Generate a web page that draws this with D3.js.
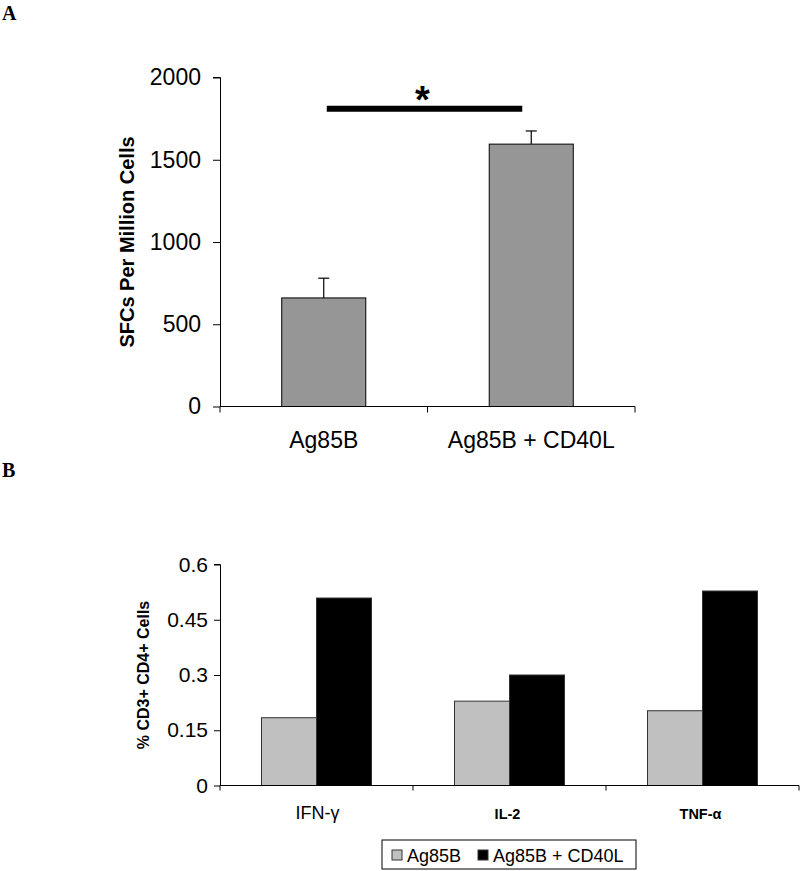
<!DOCTYPE html>
<html>
<head>
<meta charset="utf-8">
<script src="https://d3js.org/d3.v7.min.js"></script>
<style>
  body { margin: 0; background: #fff; }
  svg { display: block; font-family: Arial, "Liberation Sans", sans-serif; }
</style>
</head>
<body>
<div id="chart"></div>
<script>
// panel A data
var groupsA = ["Ag85B", "Ag85B + CD40L"];
var sfcMeans = [660, 1595];
var sfcErr = [120, 80];
var ticksA = [0, 500, 1000, 1500, 2000];

// panel B data
var cytokines = ["IFN-\u03b3", "IL-2", "TNF-\u03b1"];
var seriesB = ["Ag85B", "Ag85B + CD40L"];
var ag85b = [0.184, 0.229, 0.203];
var ag85bCd40l = [0.509, 0.300, 0.528];
var ticksB = [0, 0.15, 0.3, 0.45, 0.6];
var colorsB = ["#c0c0c0", "#000000"];

var svg = d3.select("#chart").append("svg")
  .attr("width", 800).attr("height", 871);

// panel letters
svg.append("text").attr("x", 2).attr("y", 20)
  .style("font-family", "'Liberation Serif', 'Times New Roman', serif")
  .style("font-weight", "bold").style("font-size", "20px").text("A");
svg.append("text").attr("x", 2).attr("y", 477)
  .style("font-family", "'Liberation Serif', 'Times New Roman', serif")
  .style("font-weight", "bold").style("font-size", "20px").text("B");

// ---------- panel A ----------
var xA = d3.scaleBand().domain(groupsA).range([220, 635]).padding(0);
var yA = d3.scaleLinear().domain([0, 2000]).range([406.5, 77.5]);
var barW = xA.bandwidth() * 0.405;

var gA = svg.append("g");

gA.append("g")
  .attr("transform", "translate(220,0)")
  .call(d3.axisLeft(yA).tickValues(ticksA).tickSize(7).tickPadding(12).tickFormat(d3.format("d")))
  .call(function(g) {
    g.select(".domain").attr("d", "M-7," + yA(2000) + "H0.5V" + yA(0));
    g.selectAll("text").style("font-size", "23px").style("font-family", "Arial, 'Liberation Sans', sans-serif");
  });

gA.selectAll("rect.bar").data(groupsA).enter().append("rect")
  .attr("class", "bar")
  .attr("x", function(d) { return xA(d) + xA.bandwidth() / 2 - barW / 2; })
  .attr("width", barW)
  .attr("y", function(d, i) { return yA(sfcMeans[i]); })
  .attr("height", function(d, i) { return yA(0) - yA(sfcMeans[i]); })
  .attr("fill", "#969696").attr("stroke", "#000").attr("stroke-width", 1);

// error bars (upper)
groupsA.forEach(function(d, i) {
  var cx = xA(d) + xA.bandwidth() / 2;
  gA.append("line").attr("x1", cx).attr("x2", cx)
    .attr("y1", yA(sfcMeans[i])).attr("y2", yA(sfcMeans[i] + sfcErr[i]))
    .attr("stroke", "#000").attr("stroke-width", 1.2);
  gA.append("line").attr("x1", cx - 5.5).attr("x2", cx + 5.5)
    .attr("y1", yA(sfcMeans[i] + sfcErr[i])).attr("y2", yA(sfcMeans[i] + sfcErr[i]))
    .attr("stroke", "#000").attr("stroke-width", 1.2);
});

// x axis with category boundary ticks
gA.append("line").attr("x1", 220).attr("x2", 635).attr("y1", yA(0)).attr("y2", yA(0))
  .attr("stroke", "#000").attr("stroke-width", 1);
[220, xA(groupsA[1]), 635].forEach(function(x) {
  gA.append("line").attr("x1", x).attr("x2", x).attr("y1", yA(0)).attr("y2", yA(0) + 6)
    .attr("stroke", "#000").attr("stroke-width", 1);
});
gA.selectAll("text.xlab").data(groupsA).enter().append("text")
  .attr("class", "xlab")
  .attr("x", function(d) { return xA(d) + xA.bandwidth() / 2; })
  .attr("y", 448)
  .attr("text-anchor", "middle").style("font-size", "23px")
  .text(function(d) { return d; });

// significance bar
var c1 = xA(groupsA[0]) + xA.bandwidth() / 2, c2 = xA(groupsA[1]) + xA.bandwidth() / 2;
gA.append("line").attr("x1", c1 + 3).attr("x2", c2 - 9)
  .attr("y1", yA(1810)).attr("y2", yA(1810))
  .attr("stroke", "#000").attr("stroke-width", 6);
gA.append("text").attr("x", (c1 + c2) / 2 - 5).attr("y", 113)
  .attr("text-anchor", "middle").style("font-size", "38px").style("font-weight", "bold").text("*");

gA.append("text")
  .attr("transform", "translate(134," + ((yA(0) + yA(2000)) / 2) + ") rotate(-90)")
  .attr("text-anchor", "middle").style("font-size", "20px").style("font-weight", "bold")
  .text("SFCs Per Million Cells");

// ---------- panel B ----------
var xB = d3.scaleBand().domain(cytokines).range([220, 799]).padding(0);
var xSub = d3.scaleBand().domain(seriesB)
  .range([xB.bandwidth() * 0.215, xB.bandwidth() * 0.785]).padding(0);
var yB = d3.scaleLinear().domain([0, 0.6]).range([785.5, 564.5]);
var valuesB = [ag85b, ag85bCd40l];

var gB = svg.append("g");

gB.append("g")
  .attr("transform", "translate(220,0)")
  .call(d3.axisLeft(yB).tickValues(ticksB).tickSize(6).tickPadding(6).tickFormat(d3.format("")))
  .call(function(g) {
    g.select(".domain").attr("d", "M-6," + yB(0.6) + "H0.5V" + yB(0));
    g.selectAll("text").style("font-size", "21px")
      .style("font-family", "Arial, 'Liberation Sans', sans-serif");
  });

seriesB.forEach(function(s, si) {
  gB.selectAll("rect.s" + si).data(cytokines).enter().append("rect")
    .attr("class", "s" + si)
    .attr("x", function(d) { return xB(d) + xSub(s); })
    .attr("width", xSub.bandwidth())
    .attr("y", function(d, i) { return yB(valuesB[si][i]); })
    .attr("height", function(d, i) { return yB(0) - yB(valuesB[si][i]); })
    .attr("fill", colorsB[si]).attr("stroke", "#333").attr("stroke-width", 1);
});

gB.append("line").attr("x1", 220).attr("x2", 799).attr("y1", yB(0)).attr("y2", yB(0))
  .attr("stroke", "#000").attr("stroke-width", 1);
xB.domain().map(function(d) { return xB(d); }).concat([799]).forEach(function(x) {
  gB.append("line").attr("x1", x).attr("x2", x).attr("y1", yB(0)).attr("y2", yB(0) + 5)
    .attr("stroke", "#000").attr("stroke-width", 1);
});
gB.selectAll("text.xlab").data(cytokines).enter().append("text")
  .attr("class", "xlab")
  .attr("x", function(d) { return xB(d) + xB.bandwidth() / 2 - (d === "IFN-\u03b3" ? -1 : 2); })
  .attr("y", 819)
  .attr("text-anchor", "middle")
  .style("font-size", function(d, i) { return i === 0 ? "18px" : "14.5px"; })
  .style("font-weight", function(d, i) { return i === 0 ? "normal" : "bold"; })
  .text(function(d) { return d; });

gB.append("text")
  .attr("transform", "translate(149," + ((yB(0) + yB(0.6)) / 2) + ") rotate(-90)")
  .attr("text-anchor", "middle").style("font-size", "16px").style("font-weight", "bold")
  .text("% CD3+ CD4+ Cells");

// legend
var lg = svg.append("g").attr("transform", "translate(382,840)");
lg.append("rect").attr("width", 254).attr("height", 29)
  .attr("fill", "#fff").attr("stroke", "#000").attr("stroke-width", 1);
var legX = [10, 96];
seriesB.forEach(function(s, i) {
  lg.append("rect").attr("x", legX[i]).attr("y", 10).attr("width", 10).attr("height", 10)
    .attr("fill", colorsB[i]).attr("stroke", "#333");
  lg.append("text").attr("x", legX[i] + 15).attr("y", 21.5)
    .style("font-size", "18px").text(s);
});
</script>
</body>
</html>
